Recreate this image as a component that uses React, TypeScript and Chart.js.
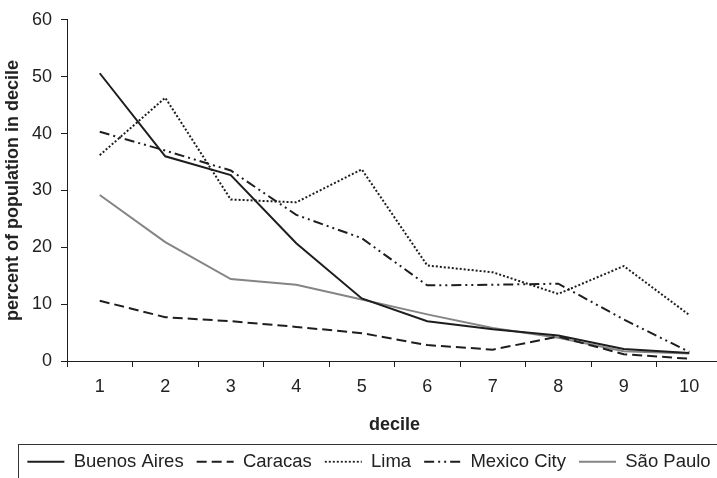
import React, { useEffect, useRef } from "react";
import { Chart, registerables } from "chart.js";

Chart.register(...registerables);

const deciles = ["1", "2", "3", "4", "5", "6", "7", "8", "9", "10"];
const buenosAires = [50.6, 36.0, 32.7, 20.7, 11.0, 7.0, 5.6, 4.5, 2.1, 1.4];
const caracas = [10.6, 7.7, 7.0, 6.0, 4.9, 2.8, 2.0, 4.3, 1.2, 0.4];
const lima = [36.2, 46.3, 28.4, 27.9, 33.7, 16.8, 15.6, 11.8, 16.7, 8.1];
const mexicoCity = [40.3, 37.0, 33.5, 25.7, 21.6, 13.3, 13.4, 13.6, 7.3, 1.6];
const saoPaulo = [29.2, 20.9, 14.4, 13.4, 10.8, 8.2, 5.8, 4.1, 1.7, 1.3];
const seriesNames = ["Buenos Aires", "Caracas", "Lima", "Mexico City", "São Paulo"];

const FONT = "'Liberation Sans', Arial, Helvetica, sans-serif";
const INK = "#1e1e1e";

const legendBoxPlugin = {
  id: "legendBox",
  afterLayout(chart: any) {
    const lg = chart.legend;
    if (!lg) return;
    lg.left += 8;
    lg.right += 8;
  },
  afterDraw(chart: any) {
    const lg = chart.legend;
    if (!lg) return;
    const ctx = chart.ctx;
    ctx.save();
    ctx.strokeStyle = "#333";
    ctx.lineWidth = 1;
    ctx.setLineDash([]);
    ctx.strokeRect(18.5, 444.5, chart.width + 20, 80);
    ctx.restore();
  },
};

export default function App() {
  const ref = useRef<HTMLCanvasElement | null>(null);

  useEffect(() => {
    const canvas = ref.current;
    if (!canvas) return;
    const mk = (label: string, data: number[], color: string, dash: number[], width: number) => ({
      label,
      data,
      borderColor: color,
      backgroundColor: color,
      borderWidth: width,
      borderDash: dash,
      pointRadius: 0,
      pointHoverRadius: 0,
      tension: 0,
      fill: false,
    });
    const baseGen = (Chart as any).defaults.plugins.legend.labels.generateLabels;
    const chart = new Chart(canvas, {
      type: "line",
      data: {
        labels: deciles,
        datasets: [
          mk(seriesNames[0], buenosAires, INK, [], 2),
          mk(seriesNames[1], caracas, INK, [10, 5], 2),
          mk(seriesNames[2], lima, INK, [2, 2], 2),
          mk(seriesNames[3], mexicoCity, INK, [10, 4, 2, 4, 2, 4], 2),
          mk(seriesNames[4], saoPaulo, "#858585", [], 2),
        ],
      },
      options: {
        responsive: false,
        animation: false,
        devicePixelRatio: 1,
        layout: { padding: { top: 14, right: 8, left: 0, bottom: -3 } },
        plugins: {
          tooltip: { enabled: false },
          legend: {
            position: "bottom",
            labels: {
              usePointStyle: true,
              pointStyle: "line",
              pointStyleWidth: 37,
              padding: 13,
              color: "#222",
              font: { family: FONT, size: 18.5 },
              generateLabels: (c: any) =>
                baseGen(c).map((it: any, i: number) => {
                  const ds = c.data.datasets[i];
                  return {
                    ...it,
                    lineDash: ds.borderDash,
                    strokeStyle: ds.borderColor,
                    fillStyle: ds.borderColor,
                    lineWidth: 1.8,
                  };
                }),
            },
          },
        },
        scales: {
          x: {
            type: "category",
            offset: true,
            grid: { offset: true, drawOnChartArea: false, drawTicks: true, tickLength: 6, color: INK, lineWidth: 1 },
            border: { color: INK, width: 1 },
            ticks: { color: "#222", padding: 9, font: { family: FONT, size: 18 }, maxRotation: 0 },
            title: {
              display: true,
              text: "decile",
              color: "#222",
              padding: { top: 0, bottom: 4 },
              font: { family: FONT, size: 18, weight: "bold" },
            },
            afterFit: (s: any) => {
              s.height = 78.5;
            },
          },
          y: {
            min: 0,
            max: 60,
            ticks: { stepSize: 10, color: "#222", padding: 9, font: { family: FONT, size: 18 } },
            grid: { drawOnChartArea: false, drawTicks: true, tickLength: 6, color: INK, lineWidth: 1 },
            border: { color: INK, width: 1 },
            title: {
              display: true,
              text: "percent of population in decile",
              color: "#222",
              padding: { top: 2, bottom: 0 },
              font: { family: FONT, size: 18, weight: "bold" },
            },
            afterFit: (s: any) => {
              s.width = 67;
            },
          },
        },
      },
      plugins: [legendBoxPlugin],
    });
    return () => chart.destroy();
  }, []);

  return (
    <div style={{ position: "absolute", left: 0, top: 0, width: 717, height: 478, overflow: "hidden", background: "#fff" }}>
      <canvas ref={ref} width={730} height={478} style={{ display: "block" }} />
    </div>
  );
}
